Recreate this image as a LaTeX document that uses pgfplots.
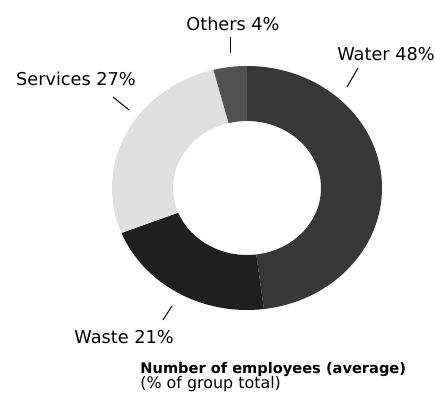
\documentclass[border=0pt]{standalone}
\usepackage{pgfplots}
\usepackage{pgfplotstable}
\pgfplotsset{compat=1.18}
\usepackage{fontspec}
\setmainfont{DejaVu Sans}
\pgfplotstableread{
label value
Water 48
Waste 21
Services 27
Others 4
}\sharetable
\pgfplotstablegetelem{0}{value}\of\sharetable \edef\vA{\pgfplotsretval}
\pgfplotstablegetelem{1}{value}\of\sharetable \edef\vB{\pgfplotsretval}
\pgfplotstablegetelem{2}{value}\of\sharetable \edef\vC{\pgfplotsretval}
\pgfplotstablegetelem{3}{value}\of\sharetable \edef\vD{\pgfplotsretval}
\pgfmathsetmacro{\aA}{90}
\pgfmathsetmacro{\aB}{90-3.6*\vA}
\pgfmathsetmacro{\aC}{90-3.6*(\vA+\vB)}
\pgfmathsetmacro{\aD}{90-3.6*(\vA+\vB+\vC)}
\pgfmathsetmacro{\aE}{90-3.6*(\vA+\vB+\vC+\vD)}
\def\cx{247}\def\cy{226}
\def\rx{135}\def\ry{122}
\def\ix{74}\def\iy{67}
\newcommand{\sector}[3]{%
  \fill[#3] (axis cs:{\cx+\rx*cos(#1)},{\cy+\ry*sin(#1)})
    arc[start angle=#1, end angle=#2, x radius=\rx, y radius=\ry]
    -- (axis cs:{\cx+\ix*cos(#2)},{\cy+\iy*sin(#2)})
    arc[start angle=#2, end angle=#1, x radius=\ix, y radius=\iy] -- cycle;}
\begin{document}
\begin{tikzpicture}
\begin{axis}[
  hide axis, scale only axis,
  width=217.5pt, height=207pt,
  xmin=0, xmax=435, ymin=0, ymax=414,
  clip=false,
]
\path (axis cs:0,0) rectangle (axis cs:435,414);
\sector{\aA}{\aB}{black!78}
\sector{\aB}{\aC}{black!88}
\sector{\aC}{\aD}{black!12}
\sector{\aD}{\aE}{black!68}
\draw[black, line width=0.5pt] (axis cs:230,377) -- (axis cs:230,361);
\draw[black, line width=0.5pt] (axis cs:358,346) -- (axis cs:347,327);
\draw[black, line width=0.5pt] (axis cs:113,317) -- (axis cs:129,304);
\draw[black, line width=0.5pt] (axis cs:172,108) -- (axis cs:163,94);
\node[anchor=base, font=\fontsize{8.85}{10}\selectfont, inner sep=0pt] at (axis cs:233,384) {Others 4\%};
\node[anchor=base, font=\fontsize{8.85}{10}\selectfont, inner sep=0pt] at (axis cs:386,354) {Water 48\%};
\node[anchor=base, font=\fontsize{8.85}{10}\selectfont, inner sep=0pt] at (axis cs:76,329) {Services 27\%};
\node[anchor=base, font=\fontsize{8.85}{10}\selectfont, inner sep=0pt] at (axis cs:124,71) {Waste 21\%};
\node[anchor=base west, font=\fontsize{7.3}{9}\selectfont\bfseries, inner sep=0pt] at (axis cs:140,41) {Number of employees (average)};
\node[anchor=base west, font=\fontsize{7.95}{9}\selectfont, inner sep=0pt] at (axis cs:140,26) {(\% of group total)};
\end{axis}
\end{tikzpicture}
\end{document}
